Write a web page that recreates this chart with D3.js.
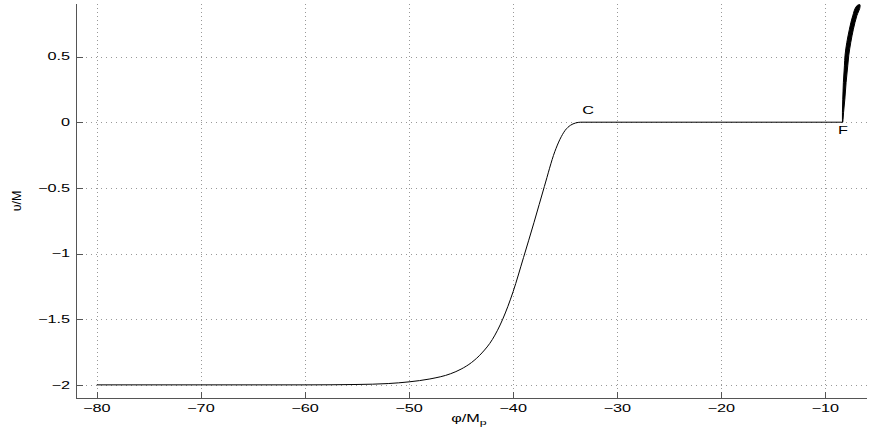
<!DOCTYPE html>
<html>
<head>
<meta charset="utf-8">
<script src="https://cdn.jsdelivr.net/npm/d3@7"></script>
<style>
  body { margin: 0; background: #fff; }
  svg { display: block; font-family: "Liberation Sans", Arial, Helvetica, sans-serif; }
</style>
</head>
<body>
<div id="chart"></div>
<script>
// main trajectory
const phi = [-80, -70, -60, -55, -52, -50, -48, -46, -45, -44, -43, -42, -41, -40, -39, -38,
  -37, -36, -35.5, -35, -34.5, -34, -33.5, -20, -8.34];
const v = [-2, -2, -2, -1.997, -1.99, -1.977, -1.955, -1.915, -1.88, -1.83, -1.757, -1.655,
  -1.5, -1.29, -1.03, -0.765, -0.49, -0.225, -0.13, -0.062, -0.024, -0.006, 0, 0, 0];

// fast oscillation after F, drawn as a band (left / right edge at each v)
const bandV = [0, 0.023, 0.076, 0.175, 0.302, 0.429, 0.51, 0.607, 0.708, 0.81, 0.886, 0.895];
const bandLeft = [-8.35, -8.36, -8.36, -8.33, -8.27, -8.17, -8.11, -7.94, -7.69, -7.37, -6.98, -6.78];
const bandRight = [-8.33, -8.30, -8.25, -8.13, -8.01, -7.85, -7.75, -7.56, -7.31, -6.98, -6.66, -6.68];

const xTicks = [-80, -70, -60, -50, -40, -30, -20, -10];
const yTicks = [-2, -1.5, -1, -0.5, 0, 0.5];
const marks = [{ t: 'C', phi: -32.8, v: 0, dy: -8 }, { t: 'F', phi: -8.3, v: 0, dy: 12 }];

const W = 872, H = 436;
const pl = 76, pr = 867, pt = 4, pb = 398;
const stretch = 1.55; // text in the original is wide

const x = d3.scaleLinear().domain([-82, -6]).range([pl, pr]);
const y = d3.scaleLinear().domain([-2.1, 0.9]).range([pb, pt]);

const svg = d3.select('#chart').append('svg').attr('width', W).attr('height', H);

function label(px, py, txt, anchor) {
  const g = svg.append('g').attr('transform', `translate(${px},${py}) scale(${stretch},1)`);
  return g.append('text').attr('text-anchor', anchor).attr('font-size', 10.5)
    .attr('fill', '#000').text(txt);
}

// grid
svg.append('g').selectAll('line').data(xTicks).join('line')
  .attr('x1', d => Math.round(x(d)) + 0.5).attr('x2', d => Math.round(x(d)) + 0.5)
  .attr('y1', pt).attr('y2', pb)
  .attr('stroke', '#999').attr('stroke-width', 1).attr('stroke-dasharray', '1,3');
svg.append('g').selectAll('line').data(yTicks).join('line')
  .attr('y1', d => Math.round(y(d)) + 0.5).attr('y2', d => Math.round(y(d)) + 0.5)
  .attr('x1', pl).attr('x2', pr)
  .attr('stroke', '#999').attr('stroke-width', 1).attr('stroke-dasharray', '1,4');

// axes (left + bottom, ticks inward)
const ax = svg.append('g').attr('stroke', '#555').attr('stroke-width', 1);
ax.append('line').attr('x1', pl + 0.5).attr('x2', pl + 0.5).attr('y1', pt).attr('y2', pb + 0.5);
ax.append('line').attr('x1', pl).attr('x2', pr).attr('y1', pb + 0.5).attr('y2', pb + 0.5);
ax.selectAll('.xt').data(xTicks).join('line').attr('class', 'xt')
  .attr('x1', d => Math.round(x(d)) + 0.5).attr('x2', d => Math.round(x(d)) + 0.5)
  .attr('y1', pb).attr('y2', pb - 6);
ax.selectAll('.yt').data(yTicks).join('line').attr('class', 'yt')
  .attr('y1', d => Math.round(y(d)) + 0.5).attr('y2', d => Math.round(y(d)) + 0.5)
  .attr('x1', pl).attr('x2', pl + 7);

const fmt = d => (d < 0 ? '\u2212' : '') + Math.abs(d);
xTicks.forEach(d => label(x(d), 412, fmt(d), 'middle'));
yTicks.forEach(d => label(70, y(d) + 3.8, fmt(d), 'end'));

// curve
const pts = phi.map((p, i) => [p, v[i]]);
svg.append('path').datum(pts)
  .attr('d', d3.line().x(d => x(d[0])).y(d => y(d[1])).curve(d3.curveMonotoneX))
  .attr('fill', 'none').attr('stroke', '#000').attr('stroke-width', 1);

const band = bandV.map((b, i) => ({ v: b, l: bandLeft[i], r: bandRight[i] }));
svg.append('path').datum(band)
  .attr('d', d3.area().y(d => y(d.v)).x0(d => x(d.l)).x1(d => x(d.r)).curve(d3.curveMonotoneY))
  .attr('fill', '#000').attr('stroke', '#000').attr('stroke-width', 1);

// point labels
marks.forEach(m => label(x(m.phi), y(m.v) + m.dy, m.t, 'middle'));

// axis labels
const xl = label(469, 422, '\u03c6/M', 'middle');
xl.append('tspan').attr('font-size', 8).attr('dy', 3).text('p');

svg.append('text')
  .attr('transform', `translate(21,${(pt + pb) / 2}) rotate(-90)`)
  .attr('text-anchor', 'middle').attr('font-size', 12.5).text('\u03c5/M');
</script>
</body>
</html>
